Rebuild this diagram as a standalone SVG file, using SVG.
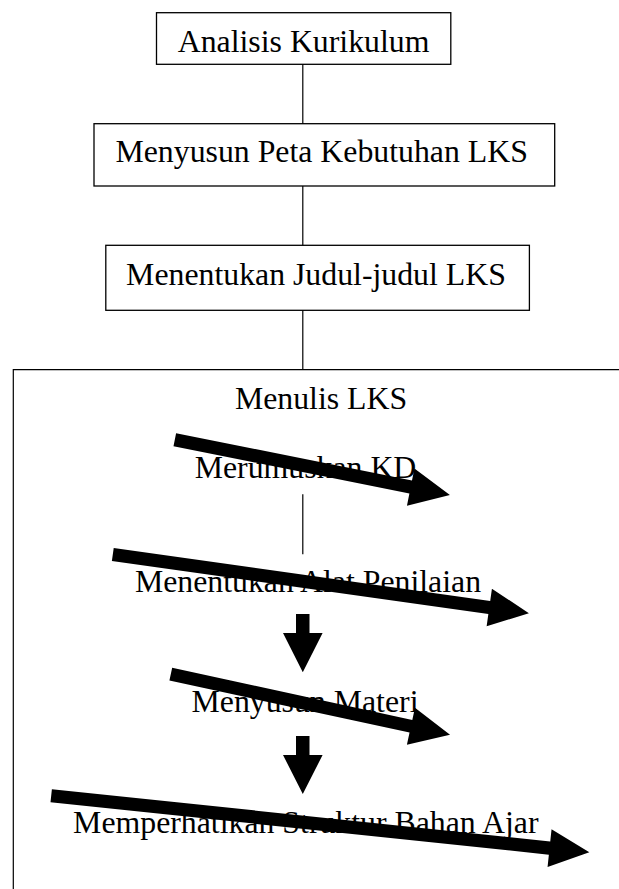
<svg xmlns="http://www.w3.org/2000/svg" width="619" height="889" viewBox="0 0 619 889">
<style>
.box{fill:#fff;stroke:#000;stroke-width:1.3}
.ln{fill:none;stroke:#000;stroke-width:1.2}
.t{font-family:"Liberation Serif","Times New Roman",serif;font-size:31.8px;fill:#000;text-anchor:middle}
.ar{fill:#000;stroke:none}
</style>
<rect width="619" height="889" fill="#fff"/>
<g id="node-analisis">
<rect class="box" x="156.5" y="12.7" width="294.3" height="51.6"/>
<text class="t" x="303.6" y="52.3">Analisis Kurikulum</text>
</g>
<g id="node-peta">
<rect class="box" x="94" y="123.7" width="460.7" height="62.3"/>
<text class="t" x="321.7" y="162.3">Menyusun Peta Kebutuhan LKS</text>
</g>
<g id="node-judul">
<rect class="box" x="105.8" y="245.3" width="423.6" height="65"/>
<text class="t" x="316" y="285">Menentukan Judul-judul LKS</text>
</g>
<g id="node-menulis">
<path class="ln" d="M13.3,889 V369.7 H619" stroke-width="1.3"/>
<text class="t" x="321" y="408.8">Menulis LKS</text>
</g>
<g id="node-kd"><text class="t" x="305.5" y="477.5">Merumuskan KD</text></g>
<g id="node-alat"><text class="t" x="308" y="591.7">Menentukan Alat Penilaian</text></g>
<g id="node-materi"><text class="t" x="305" y="712">Menyusun Materi</text></g>
<g id="node-struktur"><text class="t" x="305.8" y="833.2">Memperhatikan Struktur Bahan Ajar</text></g>
<g id="connectors">
<line class="ln" x1="302.8" y1="64.3" x2="302.8" y2="123.7"/>
<line class="ln" x1="302.8" y1="186" x2="302.8" y2="245.3"/>
<line class="ln" x1="302.8" y1="310.3" x2="302.8" y2="369.7"/>
<line class="ln" x1="302.8" y1="494.3" x2="302.8" y2="554.3"/>
<path class="ar" d="M296,614 H309.5 V633 H322.6 L302.8,672.3 L283,633 H296 Z"/>
<path class="ar" d="M296,736 H309.5 V755 H322.6 L302.8,794 L283,755 H296 Z"/>
<g transform="translate(174.8,439.7) rotate(11.35)"><path class="ar" d="M0,-6.6 H240.6 V-19 L280.6,0 L240.6,19 V6.6 H0 Z"/></g>
<g transform="translate(112.8,554.5) rotate(8.02)"><path class="ar" d="M0,-6.6 H380.2 V-19 L420.2,0 L380.2,19 V6.6 H0 Z"/></g>
<g transform="translate(170.8,674.2) rotate(12.23)"><path class="ar" d="M0,-6.5 H245.7 V-19 L285.7,0 L245.7,19 V6.5 H0 Z"/></g>
<g transform="translate(51.2,795.7) rotate(6.0)"><path class="ar" d="M0,-6.6 H501.1 V-19 L541.1,0 L501.1,19 V6.6 H0 Z"/></g>
</g>
</svg>
